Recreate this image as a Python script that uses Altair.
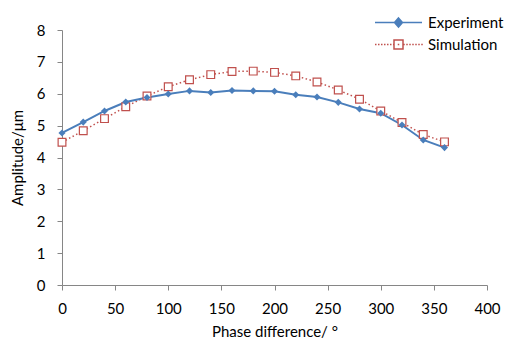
import altair as alt
import pandas as pd

phase = [0, 20, 40, 60, 80, 100, 120, 140, 160, 180, 200, 220, 240, 260, 280, 300, 320, 340, 360]
experiment = [4.77, 5.11, 5.46, 5.74, 5.88, 5.99, 6.09, 6.04, 6.10, 6.09, 6.08, 5.97, 5.90, 5.73, 5.52, 5.39, 5.02, 4.55, 4.31]
simulation = [4.48, 4.84, 5.22, 5.59, 5.93, 6.22, 6.44, 6.60, 6.70, 6.71, 6.67, 6.56, 6.37, 6.12, 5.83, 5.46, 5.10, 4.72, 4.49]
series = ["Experiment", "Simulation"]
x_ticks = [0, 50, 100, 150, 200, 250, 300, 350, 400]
y_ticks = [0, 1, 2, 3, 4, 5, 6, 7, 8]

BLUE = "#4A7EBB"
RED = "#C0504D"
FONT = "Lato"

df = pd.DataFrame({"phase": phase, "Experiment": experiment, "Simulation": simulation})
long_df = df.melt(id_vars="phase", var_name="series", value_name="amp")

x = alt.X("phase:Q", scale=alt.Scale(domain=[0, 400], nice=False),
          axis=alt.Axis(values=x_ticks, title="Phase difference/ °", grid=False, labelFlush=False))
y_enc = lambda f: alt.Y(f"{f}:Q", scale=alt.Scale(domain=[0, 8], nice=False),
                        axis=alt.Axis(values=y_ticks, title="Amplitude/μm", grid=False))

base = alt.Chart(df)
exp_line = base.mark_line(color=BLUE, strokeWidth=2).encode(x=x, y=y_enc("Experiment"))
sim_line = base.mark_line(color=RED, strokeWidth=1.5, strokeDash=[1.5, 2.5]).encode(x=x, y=y_enc("Simulation"))
exp_pts = base.mark_point(shape="diamond", filled=True, color=BLUE, size=50, opacity=1).encode(x=x, y=y_enc("Experiment"))
sim_pts = base.mark_point(shape="square", filled=False, fill="white", stroke=RED, strokeWidth=1.2,
                          size=60, opacity=1).encode(x=x, y=y_enc("Simulation"))

# legend symbol paths (line + marker)
exp_path = "M-4.7,0H4.7M0,-0.9L0.8,0L0,0.9L-0.8,0Z"
dots_l = "".join(f"M{-4.7 + i*0.6:.2f},0H{-4.7 + i*0.6 + 0.3:.2f}" for i in range(7))
dots_r = "".join(f"M{0.95 + i*0.6:.2f},0H{0.95 + i*0.6 + 0.3:.2f}" for i in range(7))
sim_path = dots_l + dots_r + "M-0.9,-0.9H0.9V0.9H-0.9ZM-0.15,0H0.15"

legend_layer = alt.Chart(long_df).transform_filter("datum.phase < -1000").mark_point(
    size=100, strokeWidth=1.5, opacity=1
).encode(
    x=x,
    y=y_enc("amp"),
    shape=alt.Shape("series:N", scale=alt.Scale(domain=series, range=[exp_path, sim_path]),
                    legend=alt.Legend(title=None, orient="none", legendX=329, legendY=-15,
                                      padding=0, labelOffset=22, rowPadding=6,
                                      labelFont=FONT, labelFontSize=15, labelColor="#000",
                                      symbolSize=100, symbolStrokeWidth=1.5)),
    fill=alt.Fill("series:N", scale=alt.Scale(domain=series, range=[BLUE, "white"])),
    stroke=alt.Stroke("series:N", scale=alt.Scale(domain=series, range=[BLUE, RED])),
)

chart = alt.layer(sim_line, exp_line, sim_pts, exp_pts, legend_layer).properties(
    width=425, height=255,
    autosize=alt.AutoSizeParams(type="none"),
    padding={"left": 54, "top": 22, "right": 21, "bottom": 57},
).configure_view(stroke=None).configure_axis(
    domainColor="#868686", tickColor="#868686", tickSize=5,
    labelFont=FONT, labelFontSize=15, labelColor="#000",
    titleFont=FONT, titleFontSize=15, titleFontWeight="normal", titleColor="#000",
).configure_axisX(titlePadding=8, labelPadding=11).configure_axisY(titlePadding=11, labelPadding=12)

chart.save("out.html", embed_options={"renderer": "svg", "actions": False})
